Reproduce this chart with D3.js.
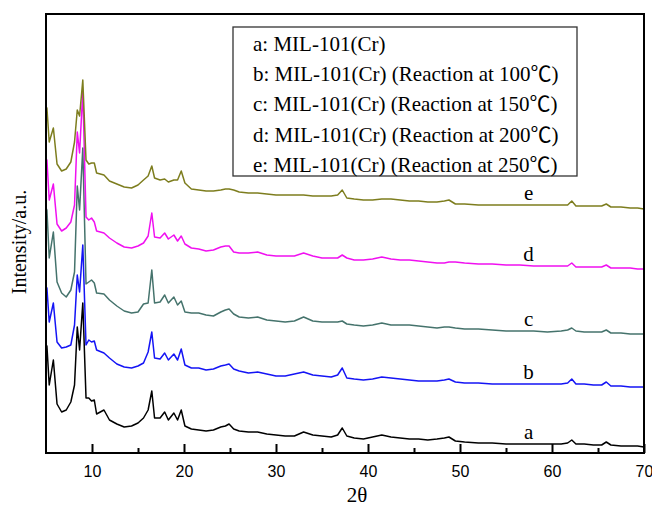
<!DOCTYPE html>
<html>
<head>
<meta charset="utf-8">
<script src="https://cdn.jsdelivr.net/npm/d3@7"></script>
<style>
  html, body { margin: 0; padding: 0; background: #fff; }
  svg { display: block; }
</style>
</head>
<body>
<svg id="chart" width="652" height="509"></svg>
<script>
// XRD patterns of MIL-101(Cr) before and after reaction (stacked, a.u.)
const twoTheta = [
  5.0, 5.1, 5.35, 5.8, 6.2, 6.7, 7.2, 7.7, 8.1, 8.4,
  8.65, 9.0, 9.35, 9.65, 9.95, 10.25, 10.5, 11.3, 11.9, 12.7,
  13.5, 14.3, 15.0, 15.6, 16.1, 16.5, 16.8, 17.4, 17.9, 18.3,
  18.9, 19.3, 19.7, 20.1, 20.8, 21.6, 22.4, 23.2, 24.0, 24.5,
  24.9, 25.4, 26.0, 27, 28, 29, 30, 31, 32, 33,
  34, 35, 36, 36.7, 37.2, 37.7, 38.5, 39.5, 40.5, 41.5,
  42.5, 43.5, 44.5, 45.5, 46.5, 47.5, 48.3, 48.8, 49.5, 50.5,
  52, 53.5, 55, 56.5, 58, 59.5, 61, 61.7, 62.15, 62.6,
  63.5, 64.5, 65.4, 65.9, 66.4, 67.5, 68.5, 69.3, 70
];

const seriesA = [
  105,107,68,93,49,41,43,51,68,126,
  103,150,55,55,52,53,39,43,33,29,
  26,27,30,35,43,62,35,35,41,33,
  40,33,43,27,24,23,22,23,26,27,
  29,24,22,21,21,19,18,17,17,21,
  18,17,16,18,25,17,15,14,16,18,
  16,15,14,14,13,14,15,16,12,11,
  10,10,9,9,9,9,9,10,13,9,
  9,8,8,11,8,7,7,7,6
];
const seriesB = [
  163,165,131,150,111,105,106,108,128,178,
  161,208,108,113,111,112,103,100,95,89,
  86,85,87,90,101,121,95,94,100,93,
  99,93,104,88,85,85,83,84,87,88,
  89,84,82,80,81,79,77,77,79,81,
  78,77,76,78,85,75,74,73,74,76,
  75,74,73,72,72,72,73,74,71,70,
  70,69,69,69,69,69,69,70,74,69,
  69,68,68,71,67,67,66,66,66
];
const seriesC = [
  245,243,195,221,171,160,156,163,181,267,
  243,305,169,171,173,170,160,159,153,147,
  142,140,141,149,150,183,150,151,158,150,
  156,148,152,141,140,140,138,137,141,143,
  144,139,136,135,136,133,132,131,132,136,
  132,131,131,131,132,129,128,127,128,130,
  128,128,128,127,126,125,126,126,125,124,
  124,123,122,122,122,121,122,123,125,122,
  121,121,121,123,120,120,119,119,119
];
const seriesD = [
  291,293,253,269,229,222,225,231,248,321,
  300,362,236,233,235,231,222,220,215,210,
  206,205,207,210,217,240,216,215,220,214,
  218,212,217,209,205,204,202,203,206,207,
  207,201,200,200,201,198,197,197,197,200,
  197,195,195,195,198,195,193,193,194,196,
  194,193,193,192,191,190,190,191,191,190,
  189,189,188,188,187,187,187,187,190,186,
  186,186,186,188,185,185,185,184,184
];
const seriesE = [
  343,345,311,325,289,282,284,291,311,343,
  337,373,293,289,290,290,280,278,272,269,
  266,265,268,273,277,287,275,273,274,271,
  273,273,282,270,264,263,262,262,263,264,
  264,263,261,260,260,259,258,258,258,258,
  257,257,257,258,263,255,254,253,253,254,
  254,253,252,252,251,251,252,253,249,249,
  248,248,248,248,248,248,248,248,252,247,
  247,247,247,249,246,246,245,245,244
];

const seriesKeys = ["a", "b", "c", "d", "e"];
const seriesValues = [seriesA, seriesB, seriesC, seriesD, seriesE];
const seriesColors = ["#000000", "#1414f5", "#45736c", "#f010f0", "#7d7d1e"];
const legendLabels = [
  "a: MIL-101(Cr)",
  "b: MIL-101(Cr) (Reaction at 100\u2103)",
  "c: MIL-101(Cr) (Reaction at 150\u2103)",
  "d: MIL-101(Cr) (Reaction at 200\u2103)",
  "e: MIL-101(Cr) (Reaction at 250\u2103)"
];
const majorTicks = [10, 20, 30, 40, 50, 60, 70];
const minorTicks = [15, 25, 35, 45, 55, 65];
const labelAt = 58;   // 2θ where the curve letters sit

const serif = "'Times New Roman', 'Liberation Serif', 'Noto Sans CJK SC', serif";
const sans = "Arial, 'Liberation Sans', sans-serif";

const svg = d3.select("#chart");
const plot = { left: 46, right: 644, top: 14, bottom: 453 };

const x = d3.scaleLinear().domain([5, 70]).range([plot.left, plot.right]);
const y = d3.scaleLinear().domain([0, 439]).range([plot.bottom, plot.top]);

// curves
const line = d3.line()
  .x(d => x(d[0]))
  .y(d => y(d[1]));

const curves = svg.append("g");
seriesValues.forEach((vals, i) => {
  const pts = twoTheta.map((t, k) => [t, vals[k]]);
  curves.append("path")
    .datum(pts)
    .attr("fill", "none")
    .attr("stroke", seriesColors[i])
    .attr("stroke-width", 1.5)
    .attr("stroke-linejoin", "round")
    .attr("d", line);
});

// curve letters
const li = twoTheta.indexOf(labelAt);
svg.append("g")
  .selectAll("text")
  .data(seriesKeys)
  .join("text")
  .attr("x", x(labelAt) - 5)
  .attr("y", (d, i) => y(seriesValues[i][li]) - 5)
  .attr("text-anchor", "middle")
  .attr("font-family", serif)
  .attr("font-size", 21)
  .attr("fill", "#000")
  .text(d => d);

// frame
svg.append("rect")
  .attr("x", plot.left).attr("y", plot.top)
  .attr("width", plot.right - plot.left)
  .attr("height", plot.bottom - plot.top)
  .attr("fill", "none")
  .attr("stroke", "#000")
  .attr("stroke-width", 2);

// bottom axis: major ticks with labels, minor ticks without
const xAxis = d3.axisBottom(x)
  .tickValues(majorTicks)
  .tickSizeInner(-9)
  .tickSizeOuter(0)
  .tickPadding(12.6)
  .tickFormat(d3.format("d"));
const gx = svg.append("g")
  .attr("transform", `translate(0,${plot.bottom})`)
  .call(xAxis);
gx.select(".domain").remove();
gx.selectAll(".tick line").attr("stroke", "#000").attr("stroke-width", 2);
gx.selectAll(".tick text")
  .attr("font-family", sans)
  .attr("font-size", 16)
  .attr("fill", "#000");

const gxm = svg.append("g")
  .attr("transform", `translate(0,${plot.bottom})`)
  .call(d3.axisBottom(x).tickValues(minorTicks).tickSizeInner(-5).tickSizeOuter(0).tickFormat(""));
gxm.select(".domain").remove();
gxm.selectAll(".tick line").attr("stroke", "#000").attr("stroke-width", 2);

// axis titles
svg.append("text")
  .attr("x", 357).attr("y", 502)
  .attr("text-anchor", "middle")
  .attr("font-family", serif)
  .attr("font-size", 21)
  .text("2\u03b8");

svg.append("text")
  .attr("transform", "translate(26,242) rotate(-90)")
  .attr("text-anchor", "middle")
  .attr("font-family", serif)
  .attr("font-size", 20)
  .text("Intensity/a.u.");

// legend
const legend = svg.append("g");
legend.append("rect")
  .attr("x", 233).attr("y", 27)
  .attr("width", 344).attr("height", 149)
  .attr("fill", "#fff")
  .attr("stroke", "#333")
  .attr("stroke-width", 1.3);
legend.selectAll("text")
  .data(legendLabels)
  .join("text")
  .attr("x", 253)
  .attr("y", (d, i) => 50.5 + i * 30.4)
  .attr("font-family", serif)
  .attr("font-size", 21)
  .attr("fill", "#000")
  .text(d => d);
</script>
</body>
</html>
